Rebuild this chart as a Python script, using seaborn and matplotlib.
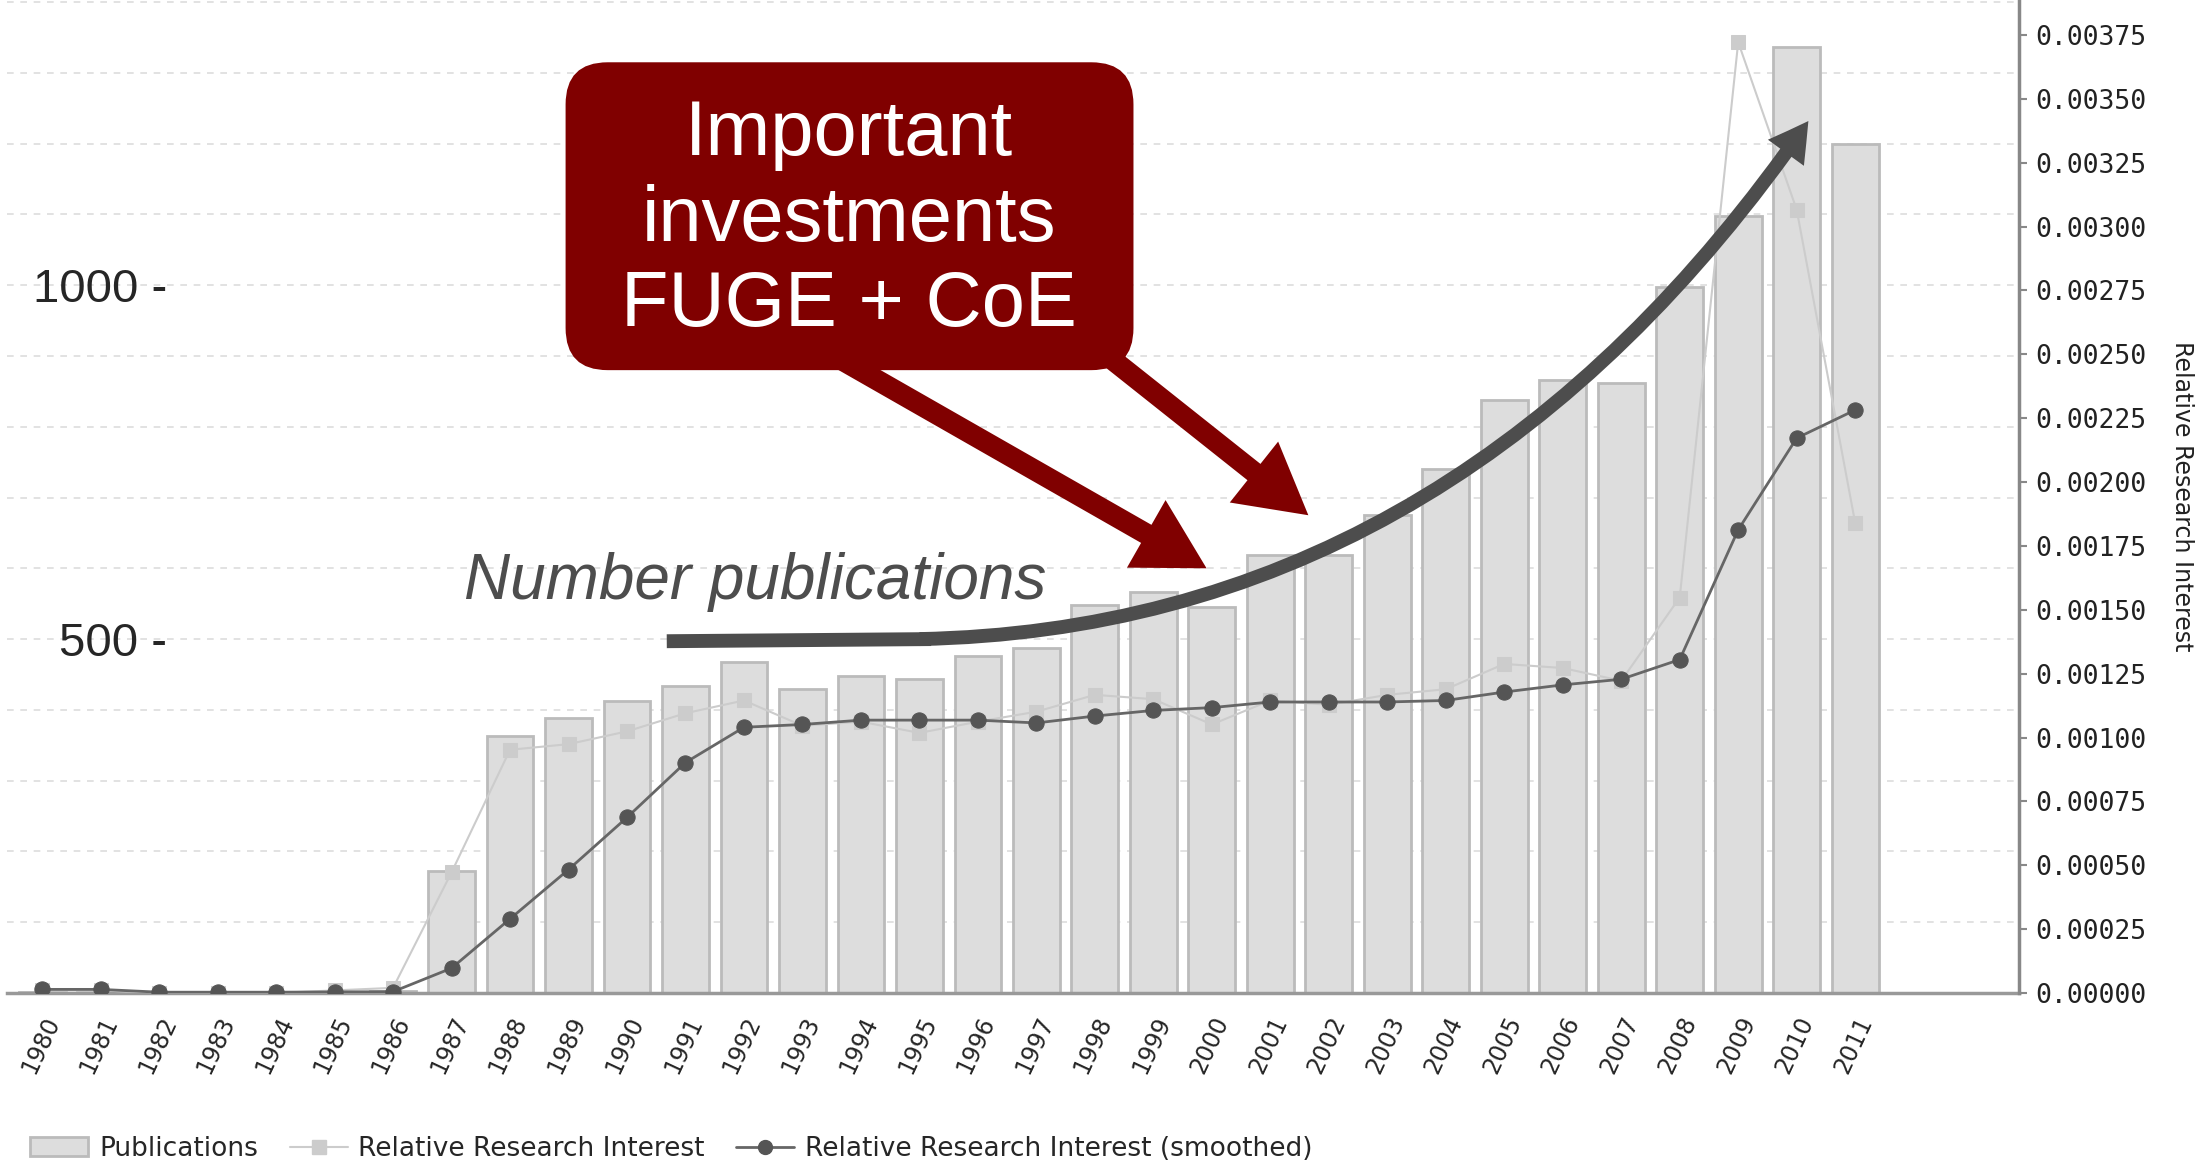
import numpy as np
import pandas as pd
import matplotlib.pyplot as plt
import seaborn as sns
from matplotlib.patches import FancyBboxPatch, FancyArrowPatch, Patch
from matplotlib.lines import Line2D
from matplotlib.path import Path
from matplotlib.ticker import MultipleLocator

# data
years = [str(y) for y in range(1980, 2012)]
publications = [2, 2, 1, 1, 1, 2, 3, 172, 363, 389, 412, 434, 468, 430, 448, 444,
                476, 488, 548, 566, 546, 619, 619, 675, 741, 838, 866, 862, 997,
                1098, 1337, 1200]
interest = [0.00001, 0.00001, 0.00000, 0.00000, 0.00000, 0.00001, 0.00002,
            0.000472, 0.000952, 0.000974, 0.001024, 0.001095, 0.001145, 0.001046,
            0.001062, 0.001018, 0.001062, 0.001101, 0.001167, 0.001150, 0.001051,
            0.001145, 0.001128, 0.001167, 0.001189, 0.001288, 0.001272, 0.001222,
            0.001548, 0.003722, 0.003066, 0.001840]
smoothed = [0.000014, 0.000014, 0.000003, 0.000003, 0.000003, 0.000004, 0.000005,
            0.000097, 0.00029, 0.000483, 0.000687, 0.000902, 0.00104, 0.001051,
            0.001068, 0.001068, 0.001068, 0.001057, 0.001084, 0.001106, 0.001117,
            0.001139, 0.001139, 0.001139, 0.001145, 0.001178, 0.001206, 0.001228,
            0.001305, 0.001813, 0.002172, 0.002282]
right_ticks = [i * 0.00025 for i in range(16)]

df = pd.DataFrame({'year': years, 'publications': publications,
                   'interest': interest, 'smoothed': smoothed})
df['pos'] = np.arange(len(df))

sns.set_style('white')
plt.rcParams['font.family'] = ['DejaVu Sans']

fig = plt.figure(figsize=(22.06, 11.60), dpi=100)
ax = fig.add_axes([0.0032, 0.144, 0.912, 0.856])

# bars
sns.barplot(data=df, x='year', y='publications', color='#dddddd', saturation=1,
            edgecolor='#bbbbbb', linewidth=2, width=0.8, ax=ax)
ax.set_xlim(-0.6, 33.8)
ax.set_ylim(0, 1403)
ax.set_xlabel('')
ax.set_ylabel('')
ax.set_yticks([500, 1000])
ax.set_yticklabels(['500 -', '1000 -'], family=['Liberation Sans', 'DejaVu Sans'],
                   fontsize=34)
ax.yaxis.set_minor_locator(MultipleLocator(100))
ax.tick_params(axis='y', which='both', length=0, pad=-115)
ax.grid(which='both', axis='y', color='#dddddd', linestyle=(0, (4, 4)), linewidth=1.2)
ax.set_axisbelow(True)
ax.tick_params(axis='x', length=0, pad=14)
for lab in ax.get_xticklabels():
    lab.set_rotation(65)
    lab.set_ha('right')
    lab.set_rotation_mode('anchor')
    lab.set_fontsize(17)
for s in ['left', 'top', 'right']:
    ax.spines[s].set_visible(False)
ax.spines['bottom'].set_color('#999999')
ax.spines['bottom'].set_linewidth(2.5)

# lines on the right axis
ax2 = ax.twinx()
sns.lineplot(data=df, x='pos', y='interest', ax=ax2, color='#cccccc', linewidth=1.5,
             marker='s', markersize=10, markeredgecolor='#cccccc')
sns.lineplot(data=df, x='pos', y='smoothed', ax=ax2, color='#666666', linewidth=2,
             marker='o', markersize=11, markeredgecolor='#555555',
             markerfacecolor='#555555')
ax2.set_xlim(-0.6, 33.8)
ax2.set_ylim(0, 0.003887)
ax2.set_yticks(right_ticks)
ax2.set_yticklabels([f'{t:.5f}' for t in right_ticks], family='DejaVu Sans Mono',
                    fontsize=19, color='#222222')
ax2.tick_params(axis='y', length=6, width=1.5, color='#888888', pad=6)
ax2.set_ylabel('Relative Research Interest', rotation=-90, fontsize=17, color='#222222')
ax2.yaxis.set_label_coords(1.087, 0.5)
ax2.set_xlabel('')
ax2.grid(False)
for s in ['left', 'top', 'bottom']:
    ax2.spines[s].set_visible(False)
ax2.spines['right'].set_color('#888888')
ax2.spines['right'].set_linewidth(2.5)
if ax2.get_legend():
    ax2.get_legend().remove()

# annotations (in publication units, drawn above the lines)
red = '#800000'
for start, tip in [((13.47, 904), (19.91, 600)), ((18.16, 904), (21.65, 675))]:
    ax2.add_patch(FancyArrowPatch(start, tip, transform=ax.transData,
                                  arrowstyle='simple,head_length=50,head_width=56,tail_width=15',
                                  mutation_scale=1, shrinkA=0, shrinkB=0,
                                  fc=red, ec='none', zorder=5))
ax2.add_patch(FancyBboxPatch((8.95, 880), 9.71, 435, transform=ax.transData,
                             boxstyle='round,pad=0,rounding_size=0.72',
                             mutation_aspect=82.6, fc=red, ec='none', zorder=6))
ax2.text(13.8, 1092, 'Important\ninvestments\nFUGE + CoE', transform=ax.transData,
         ha='center', va='center', color='white', fontsize=56, linespacing=1.22,
         family=['Liberation Sans', 'DejaVu Sans'], zorder=7)

grey = '#4d4d4d'
ax2.plot([10.68, 15.2], [497, 500], transform=ax.transData, color=grey, lw=10,
         solid_capstyle='butt', zorder=5)
curve = Path([(15.0, 500), (24.2, 515), (30.2, 1232)],
             [Path.MOVETO, Path.CURVE3, Path.CURVE3])
ax2.add_patch(FancyArrowPatch(path=curve, transform=ax.transData,
                              arrowstyle='simple,head_length=28,head_width=32,tail_width=10',
                              mutation_scale=1, fc=grey, ec='none', zorder=5))
ax2.text(12.2, 581, 'Number publications', transform=ax.transData, ha='center',
         va='center', fontsize=46, style='italic', color=grey,
         family=['Liberation Sans', 'DejaVu Sans'], zorder=7)
ax2.set_ylim(0, 0.003887)

# legend
handles = [Patch(fc='#dddddd', ec='#bbbbbb', lw=2),
           Line2D([], [], color='#cccccc', lw=1.5, marker='s', markersize=10),
           Line2D([], [], color='#666666', lw=2, marker='o', markersize=10,
                  markerfacecolor='#555555', markeredgecolor='#555555')]
fig.legend(handles, ['Publications', 'Relative Research Interest',
                     'Relative Research Interest (smoothed)'],
           loc='lower left', bbox_to_anchor=(0.003, -0.022), ncol=3, frameon=False,
           fontsize=19, handlelength=2.2, columnspacing=1.2, handletextpad=0.4)

fig.savefig('out.png', dpi=100)
